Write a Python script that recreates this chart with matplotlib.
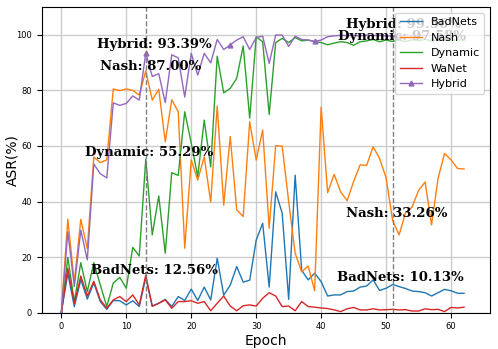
import matplotlib
matplotlib.use("Agg")
import matplotlib.pyplot as plt

# ASR per epoch (0..62)
epochs = list(range(63))

badnets = [0, 14.2, 2.2, 11.9, 4.9, 10.7, 4.0, 1.2, 4.4, 4.3,
           2.8, 4.3, 2.2, 12.56, 2.4, 3.4, 4.8, 2.2, 5.8, 4.4,
           8.5, 4.4, 9.2, 4.6, 19.6, 6.3, 9.9, 16.6, 11.0, 11.7,
           26.1, 32.2, 9.2, 43.5, 35.8, 4.8, 49.5, 15.3, 11.8, 14.2,
           11.2, 6.0, 6.4, 6.4, 7.6, 7.8, 9.2, 9.6, 11.8, 8.0,
           8.8, 10.13, 9.4, 8.7, 7.8, 7.6, 7.2, 6.0, 7.2, 8.4,
           7.9, 7.0, 7.0]

nash = [0, 33.6, 11.0, 33.6, 23.0, 56.0, 54.0, 55.0, 80.5, 79.9,
        80.5, 80.0, 78.3, 87.0, 76.5, 80.4, 61.5, 76.6, 72.3, 23.2,
        55.0, 47.7, 56.1, 39.8, 74.4, 38.7, 63.4, 37.0, 34.6, 68.7,
        54.9, 65.7, 30.4, 60.1, 59.9, 40.0, 21.4, 14.7, 16.8, 7.9,
        74.0, 43.2, 49.8, 43.5, 40.3, 47.2, 53.2, 53.0, 59.7, 55.5,
        48.5, 33.26, 28.0, 36.0, 38.0, 44.0, 47.0, 31.6, 48.3, 57.3,
        55.0, 51.9, 51.7]

dynamic = [0, 19.9, 4.0, 18.0, 7.6, 18.0, 10.0, 2.2, 10.7, 12.7,
           8.8, 23.5, 20.4, 55.29, 28.0, 42.0, 21.4, 50.4, 49.4, 72.3,
           61.0, 49.0, 69.3, 52.5, 92.3, 79.1, 80.7, 84.3, 96.0, 70.0,
           99.3, 97.5, 71.3, 97.2, 98.7, 97.2, 99.0, 97.8, 98.1, 97.5,
           97.2, 96.4, 97.0, 97.5, 97.2, 96.2, 97.5, 97.8, 98.3, 97.5,
           98.1, 97.58, 98.0, 97.6, 98.2, 97.9, 98.4, 97.7, 98.1, 98.3,
           97.9, 98.2, 98.0]

wanet = [0, 16.0, 3.3, 13.2, 6.0, 11.3, 4.6, 1.6, 4.6, 5.8,
         4.0, 6.4, 2.8, 13.5, 2.3, 3.4, 4.6, 1.6, 4.0, 4.0,
         4.3, 3.4, 4.0, 0.7, 3.4, 6.0, 2.4, 0.7, 2.5, 2.8,
         2.4, 5.2, 7.2, 6.0, 2.2, 2.4, 0.7, 4.0, 2.2, 2.0,
         1.7, 1.5, 1.0, 0.4, 1.4, 1.9, 1.0, 1.0, 1.4, 1.0,
         1.1, 1.2, 1.0, 1.1, 0.6, 0.6, 1.4, 1.1, 1.2, 0.4,
         1.9, 1.7, 2.0]

hybrid = [0, 29.1, 9.4, 29.7, 19.0, 53.5, 50.0, 48.5, 75.5, 74.6,
          75.3, 78.0, 76.5, 93.39, 85.0, 86.0, 75.6, 92.8, 91.7, 77.6,
          93.3, 85.5, 93.3, 89.9, 98.3, 94.7, 96.3, 98.1, 99.3, 94.7,
          99.0, 99.5, 89.7, 99.9, 99.9, 95.8, 99.5, 98.3, 98.1, 97.6,
          98.1, 99.3, 99.6, 99.8, 99.7, 99.8, 99.6, 99.9, 99.7, 99.8,
          99.6, 99.56, 99.7, 99.8, 99.6, 99.9, 99.7, 99.8, 99.6, 99.9,
          99.7, 99.8, 99.7]

mark_epochs = [13, 51]

fig = plt.figure(figsize=(4.98, 3.49), dpi=100)
ax = fig.add_axes([0.084, 0.104, 0.9, 0.876])

ax.plot(epochs, badnets, color='C0', linewidth=1, label='BadNets')
ax.plot(epochs, nash, color='C1', linewidth=1, label='Nash')
ax.plot(epochs, dynamic, color='C2', linewidth=1, label='Dynamic')
ax.plot(epochs, wanet, color='C3', linewidth=1, label='WaNet')
ax.plot(epochs, hybrid, color='C4', linewidth=1, marker='^', markersize=3.5,
        markevery=13, label='Hybrid')

for e in mark_epochs:
    ax.axvline(e, color='gray', linestyle='--', linewidth=1)

# value labels at the two marked epochs
tfont = dict(family='DejaVu Serif', fontweight='bold', fontsize=9.5,
             ha='center', va='center')
ax.text(14.3, hybrid[13] + 3.0, 'Hybrid: %.2f%%' % hybrid[13], **tfont)
ax.text(13.8, nash[13] + 1.5, 'Nash: %.2f%%' % nash[13], **tfont)
ax.text(13.6, dynamic[13] + 2.4, 'Dynamic: %.2f%%' % dynamic[13], **tfont)
ax.text(14.3, badnets[13] + 2.8, 'BadNets: %.2f%%' % badnets[13], **tfont)
ax.text(52.7, hybrid[51] + 4.0, 'Hybrid: %.2f%%' % hybrid[51], **tfont)
ax.text(52.4, dynamic[51] + 1.7, 'Dynamic: %.2f%%' % dynamic[51], **tfont)
ax.text(51.7, nash[51] + 2.5, 'Nash: %.2f%%' % nash[51], **tfont)
ax.text(52.2, badnets[51] + 2.6, 'BadNets: %.2f%%' % badnets[51], **tfont)

ax.set_xlim(-3, 66)
ax.set_ylim(0, 110)
ax.set_yticks([0, 20, 40, 60, 80, 100])
ax.tick_params(labelsize=6)
ax.grid(True, color='#cccccc', linewidth=1)
ax.set_xlabel('Epoch', fontsize=10, labelpad=2)
ax.set_ylabel('ASR(%)', fontsize=10)
ax.yaxis.set_label_coords(-0.05, 0.5)
ax.legend(loc='upper right', fontsize=8)

fig.savefig('out.png', dpi=100)
